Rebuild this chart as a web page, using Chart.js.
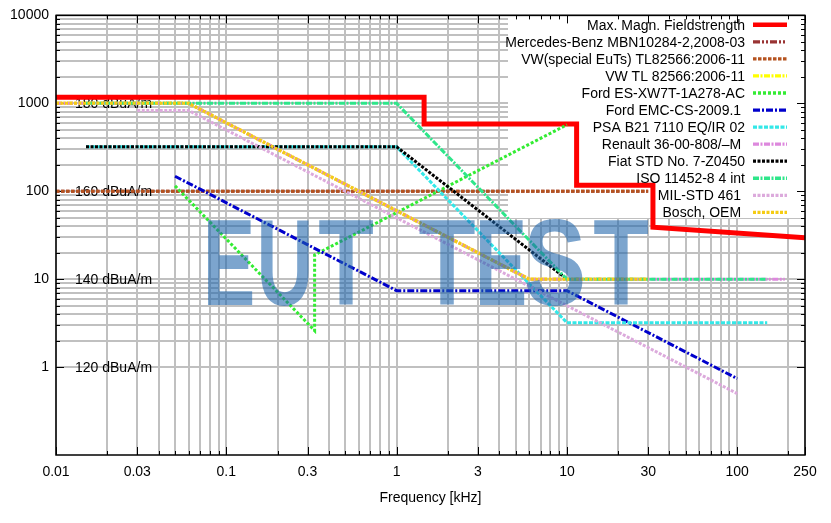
<!DOCTYPE html>
<html>
<head>
<meta charset="utf-8">
<script src="https://cdn.jsdelivr.net/npm/chart.js@4.4.1/dist/chart.umd.min.js"></script>
<style>
  html, body { margin: 0; padding: 0; background: #fff; }
  canvas { display: block; }
</style>
</head>
<body>
<canvas id="fieldChart" width="831" height="523"></canvas>
<script>
// Axis labels
const xTickLabels = [0.01, 0.03, 0.1, 0.3, 1, 3, 10, 30, 100, 250];   // kHz
const yTickLabels = [1, 10, 100, 1000, 10000];                        // A/m
const levelLabels = ['180 dBuA/m', '160 dBuA/m', '140 dBuA/m', '120 dBuA/m'];
const levelValues = [1000, 100, 10, 1];

// Limit lines, frequency in kHz and level in A/m
const maxFreq = [0.01, 1.45, 1.45, 11.4, 11.4, 32, 32, 250];
const maxLevel = [1170, 1170, 580, 580, 117, 117, 39, 29.5];
const mbnFreq = [0.01, 30];
const mbnLevel = [100, 100];
const vwSpecialFreq = [0.01, 30];
const vwSpecialLevel = [100, 100];
const vwFreq = [0.01, 0.06, 6, 30];
const vwLevel = [1000, 1000, 10, 10];
const fordEsFreq = [0.05, 0.33, 0.33, 10];
const fordEsLevel = [115, 2.6, 18.9, 570];
const fordEmcFreq = [0.05, 1, 10, 100];
const fordEmcLevel = [148, 7.4, 7.4, 0.74];
const psaFreq = [0.015, 1, 10, 150];
const psaLevel = [320, 320, 3.2, 3.2];
const renaultFreq = [0.01, 0.06, 6, 190];
const renaultLevel = [1000, 1000, 10, 10];
const fiatFreq = [0.015, 1, 10];
const fiatLevel = [320, 320, 10];
const isoFreq = [0.015, 1, 10, 150];
const isoLevel = [1000, 1000, 10, 10];
const milFreq = [0.03, 0.06, 100];
const milLevel = [830, 830, 0.5];
const boschFreq = [0.01, 0.06, 6, 30];
const boschLevel = [1000, 1000, 10, 10];

const FONT = '"Liberation Sans", Arial, sans-serif';
Chart.defaults.font.family = FONT;
Chart.defaults.color = '#000';

function points(freq, level) {
    return freq.map((f, i) => ({ x: f, y: level[i] }));
}

// gridlines at 1..9 of every decade
function decadeGrid(from, to) {
    const out = [];
    for (let d = from; d < to; d *= 10) {
        for (let k = 1; k < 10; k++) out.push(+(k * d).toPrecision(3));
    }
    return out;
}
const xGrid = decadeGrid(0.01, 1000).filter(v => v < 250).concat([250]);
const yGrid = decadeGrid(1, 10000).concat([10000]);

const DOT = [3.5, 1.5];
const DASHDOT = [7, 2, 2, 2];
const LONGDOT = [6, 1.5, 2, 1.5];

// keyDash only differs where the line itself lies hidden under another one
const series = [
    { label: 'Max. Magn. Fieldstrength', data: points(maxFreq, maxLevel), color: '#ff0000', width: 5, dash: [] },
    { label: 'Mercedes-Benz MBN10284-2,2008-03', data: points(mbnFreq, mbnLevel), color: '#993333', width: 3, dash: DOT, keyDash: [7, 2, 2, 2, 2, 2] },
    { label: 'VW(special EuTs) TL82566:2006-11', data: points(vwSpecialFreq, vwSpecialLevel), color: '#b5531f', width: 3, dash: DOT },
    { label: 'VW TL 82566:2006-11', data: points(vwFreq, vwLevel), color: '#ffff00', width: 3.5, dash: LONGDOT },
    { label: 'Ford ES-XW7T-1A278-AC', data: points(fordEsFreq, fordEsLevel), color: '#33ec33', width: 3, dash: [3, 2] },
    { label: 'Ford EMC-CS-2009.1 ', data: points(fordEmcFreq, fordEmcLevel), color: '#0000cc', width: 3, dash: DASHDOT },
    { label: 'PSA B21 7110 EQ/IR 02', data: points(psaFreq, psaLevel), color: '#33e8e8', width: 3, dash: [4, 1.5] },
    { label: 'Renault 36-00-808/–M ', data: points(renaultFreq, renaultLevel), color: '#dd88dd', width: 3, dash: LONGDOT },
    { label: 'Fiat STD No. 7-Z0450', data: points(fiatFreq, fiatLevel), color: '#000000', width: 3, dash: [3, 1.5] },
    { label: 'ISO 11452-8 4 int', data: points(isoFreq, isoLevel), color: '#2ee68a', width: 3, dash: LONGDOT },
    { label: 'MIL-STD 461 ', data: points(milFreq, milLevel), color: '#dcaadc', width: 3, dash: [3, 1.5] },
    { label: 'Bosch, OEM ', data: points(boschFreq, boschLevel), color: '#f5cc14', width: 3, dash: [3, 1.5] }
];

// gnuplot style extras: empty key area, dB labels, mirror ticks, watermark, key, frame
const gnuplotLook = {
    id: 'gnuplotLook',
    beforeDatasetsDraw(chart) {
        const { ctx, chartArea: a, scales: { x, y } } = chart;
        ctx.save();
        ctx.fillStyle = '#fff';
        ctx.fillRect(508, a.top, a.right - 508, 218 - a.top);

        ctx.font = '14px ' + FONT;
        ctx.fillStyle = '#000';
        ctx.textAlign = 'left';
        ctx.textBaseline = 'middle';
        levelLabels.forEach((t, i) => ctx.fillText(t, 75, y.getPixelForValue(levelValues[i]) + 1));

        ctx.strokeStyle = '#000';
        ctx.lineWidth = 1;
        ctx.beginPath();
        x.ticks.forEach(t => {
            const px = Math.round(x.getPixelForValue(t.value)) + 0.5;
            const len = xTickLabels.includes(t.value) ? 8 : 4;
            ctx.moveTo(px, a.top); ctx.lineTo(px, a.top + len);
            ctx.moveTo(px, a.bottom); ctx.lineTo(px, a.bottom - len);
        });
        y.ticks.forEach(t => {
            const py = Math.round(y.getPixelForValue(t.value)) + 0.5;
            const len = yTickLabels.includes(t.value) ? 8 : 4;
            ctx.moveTo(a.left, py); ctx.lineTo(a.left + len, py);
            ctx.moveTo(a.right, py); ctx.lineTo(a.right - len, py);
        });
        ctx.stroke();
        ctx.restore();
    },
    afterDatasetsDraw(chart) {
        const { ctx, chartArea: a } = chart;
        ctx.save();

        // watermark
        ctx.fillStyle = 'rgba(30, 100, 170, 0.58)';
        ctx.font = 'bold 123px ' + FONT;
        ctx.textAlign = 'center';
        ctx.textBaseline = 'alphabetic';
        const letters = ['E', 'U', 'T', 'T', 'E', 'S', 'T'];
        const centers = [229, 285, 346, 447, 501, 555, 621];
        const squeeze = [0.64, 0.64, 0.74, 0.76, 0.64, 0.76, 0.74];
        letters.forEach((ch, i) => {
            ctx.save();
            ctx.translate(centers[i], 305);
            ctx.scale(squeeze[i], 1);
            ctx.fillText(ch, 0, 0);
            ctx.restore();
        });

        // key
        ctx.font = '14px ' + FONT;
        ctx.fillStyle = '#000';
        ctx.textAlign = 'right';
        ctx.textBaseline = 'middle';
        series.forEach((s, i) => {
            const ry = 24.8 + 17.05 * i;
            ctx.fillText(s.label, 745, ry + 1);
            ctx.beginPath();
            ctx.strokeStyle = s.color;
            ctx.lineWidth = s.width === 5 ? 4.5 : 3.3;
            ctx.setLineDash(s.keyDash || s.dash);
            ctx.moveTo(753, ry);
            ctx.lineTo(787, ry);
            ctx.stroke();
        });
        ctx.setLineDash([]);

        // frame
        ctx.strokeStyle = '#000';
        ctx.lineWidth = 1.5;
        ctx.strokeRect(a.left, a.top, a.right - a.left, a.bottom - a.top);
        ctx.restore();
    }
};

new Chart(document.getElementById('fieldChart'), {
    type: 'line',
    data: {
        datasets: series.map((s, i) => ({
            label: s.label,
            data: s.data,
            borderColor: s.color,
            backgroundColor: s.color,
            borderWidth: s.width,
            borderDash: s.dash,
            borderCapStyle: 'butt',
            borderJoinStyle: 'miter',
            pointRadius: 0,
            tension: 0,
            fill: false,
            order: series.length - i
        }))
    },
    options: {
        responsive: false,
        animation: false,
        layout: { padding: { top: 13, right: 26, left: 0, bottom: 0 } },
        plugins: {
            legend: { display: false },
            tooltip: { enabled: false }
        },
        scales: {
            x: {
                type: 'logarithmic',
                min: 0.01,
                max: 250,
                afterBuildTicks: scale => { scale.ticks = xGrid.map(v => ({ value: v })); },
                afterFit: scale => { scale.height = 68; },
                ticks: {
                    autoSkip: false,
                    maxRotation: 0,
                    minRotation: 0,
                    padding: 9,
                    font: { size: 14 },
                    callback: v => xTickLabels.includes(v) ? String(v) : ''
                },
                grid: { color: '#c0c0c0', lineWidth: 2, drawTicks: false },
                border: { display: false },
                title: {
                    display: true,
                    text: 'Frequency [kHz]',
                    font: { size: 14 },
                    padding: { top: 0, bottom: 16 }
                }
            },
            y: {
                type: 'logarithmic',
                min: 0.1,
                max: 10000,
                afterBuildTicks: scale => { scale.ticks = yGrid.map(v => ({ value: v })); },
                afterFit: scale => { scale.width = 56; },
                ticks: {
                    autoSkip: false,
                    padding: 7,
                    font: { size: 14 },
                    callback: v => yTickLabels.includes(v) ? String(v) : ''
                },
                grid: { color: '#c0c0c0', lineWidth: 2, drawTicks: false },
                border: { display: false }
            }
        }
    },
    plugins: [gnuplotLook]
});
</script>
</body>
</html>
